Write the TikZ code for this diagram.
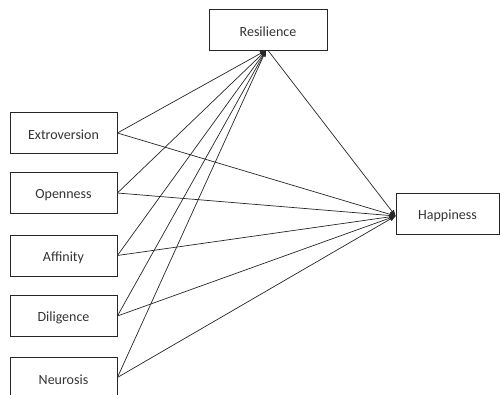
\documentclass[tikz,border=0pt]{standalone}
\usepackage{fontspec}
\setmainfont{Carlito}
\usetikzlibrary{arrows.meta}
\begin{document}
\begin{tikzpicture}[x=1pt,y=-1pt,
  box/.style={draw=black!85, line width=0.8pt, minimum width=107pt, minimum height=41pt, inner sep=0pt, font=\fontsize{14}{16}\selectfont, text=black!80},
  lbl/.style={yshift=-2pt},
  conn/.style={draw=black!85, line width=0.7pt, -{Triangle[length=6pt,width=4.5pt]}}]
\useasboundingbox (0,0) rectangle (500,395);
\clip (0,0) rectangle (500,395);
\node[box, minimum width=118pt] (res) at (268,29.5) {};
\node[box, minimum width=103pt] (hap) at (447.5,214) {};
\node[box] (ext) at (63.5,133) {};
\node[box] (ope) at (63.5,193) {};
\node[box] (aff) at (63.5,255.5) {};
\node[box] (dil) at (63.5,316) {};
\node[box] (neu) at (63.5,377.5) {};
\node[box, draw=none, lbl] (tres) at (res.center) {Resilience};
\node[box, draw=none, lbl] (thap) at (hap.center) {Happiness};
\node[box, draw=none, lbl] (text) at (ext.center) {Extroversion};
\node[box, draw=none, lbl] (tope) at (ope.center) {Openness};
\node[box, draw=none, lbl] (taff) at (aff.center) {Affinity};
\node[box, draw=none, lbl] (tdil) at (dil.center) {Diligence};
\node[box, draw=none, lbl] (tneu) at (neu.center) {Neurosis};
\foreach \n in {ext,ope,aff,dil,neu}{
  \draw[conn] (\n.east) -- ([xshift=-2pt]res.south);
  \draw[conn] (\n.east) -- ([yshift=-2pt]hap.west);
}
\draw[conn] (res.south) -- ([yshift=-2pt]hap.west);
\end{tikzpicture}
\end{document}
